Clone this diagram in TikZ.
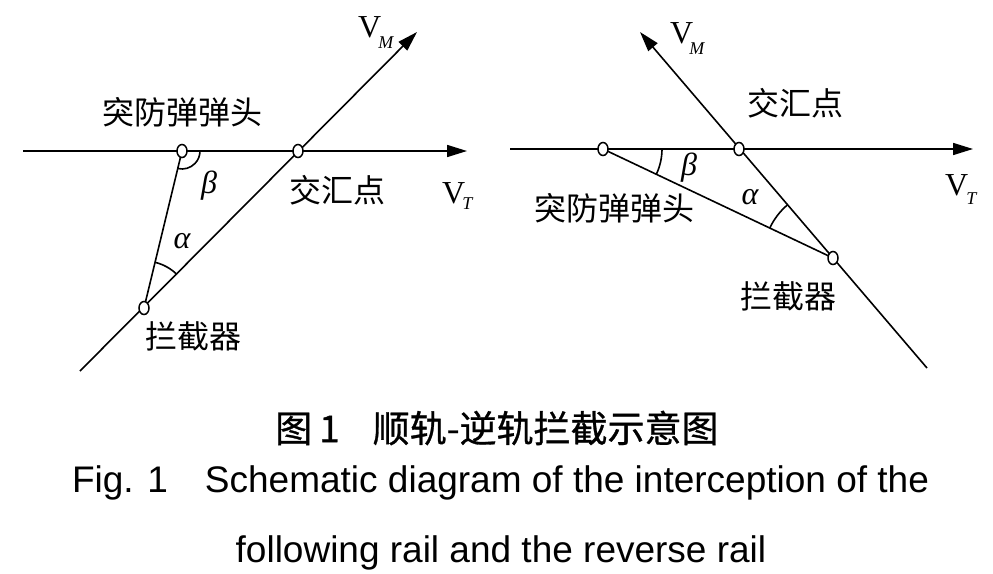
\documentclass[tikz,border=0pt]{standalone}
\usepackage{fontspec}
\setmainfont{Liberation Serif}
\newfontfamily\cjk{Noto Sans CJK SC}
\newfontfamily\cjkcap[FakeBold=0.8]{Noto Sans CJK SC}
\newfontfamily\capfont{Liberation Sans}
\usetikzlibrary{arrows.meta,angles,shapes.geometric}
\newcommand{\vsubs}[3]{V\kern#1pt\raisebox{-#2pt}{\fontsize{18}{18}\selectfont\itshape #3}}
\begin{document}
\begin{tikzpicture}[x=1pt,y=1pt,
  ln/.style={line width=1.6pt},
  arr/.style={ln,-{Triangle[length=20pt,width=12pt]}},
  pt/.style={ellipse,draw,fill=white,line width=1.5pt,minimum width=10pt,minimum height=13pt,inner sep=0pt},
  lab/.style={font=\cjk\fontsize{32}{32}\selectfont,inner sep=0pt},
  vv/.style={font=\fontsize{32}{32}\selectfont,inner sep=0pt,anchor=base west},
  gk/.style={font=\fontsize{32}{32}\selectfont\itshape,inner sep=0pt},
  ang/.style={draw,line width=1.6pt}
]
\useasboundingbox (0,0) rectangle (993,-573);
\fill[white] (0,0) rectangle (993,-573);
% ---------- left diagram ----------
\coordinate (lH0) at (23,-151);
\coordinate (lHT) at (467,-151);
\coordinate (lW) at (182,-151);
\coordinate (lM) at (298,-151);
\coordinate (lI) at (144,-308);
\coordinate (lV0) at (80,-371);
\coordinate (lVT) at (417,-32);
\draw[arr] (lH0) -- (lHT);
\draw[arr] (lV0) -- (lVT);
\draw[ln] (lW) -- (lI);
\pic[ang, angle radius=18pt] {angle = lI--lW--lM};
\pic[ang, angle radius=47pt] {angle = lM--lI--lW};
\node[pt] (plW) at (lW) {};
\node[pt] (plM) at (lM) {};
\node[pt] (plI) at (lI) {};
\node[lab] (tl1) at (182,-112) {突防弹弹头};
\node[lab] (tl2) at (337,-190) {交汇点};
\node[lab] (tl3) at (193,-336) {拦截器};
\node[gk] (gl1) at (209,-186) {β};
\node[gk] (gl2) at (182,-241) {α};
\node[vv] (vl1) at (358,-37) {\vsubs{-3}{11}{M}};
\node[vv] (vl2) at (442,-203) {\vsubs{-3}{6}{T}};
% ---------- right diagram ----------
\coordinate (rH0) at (510,-149);
\coordinate (rHT) at (973,-149);
\coordinate (rW) at (603,-149);
\coordinate (rM) at (739,-149);
\coordinate (rI) at (833,-258);
\coordinate (rV0) at (927,-368);
\coordinate (rVT) at (640,-32);
\draw[arr] (rH0) -- (rHT);
\draw[arr] (rV0) -- (rVT);
\draw[ln] (rW) -- (rI);
\pic[ang, angle radius=59pt] {angle = rI--rW--rM};
\pic[ang, angle radius=70pt] {angle = rM--rI--rW};
\node[pt] (prW) at (rW) {};
\node[pt] (prM) at (rM) {};
\node[pt] (prI) at (rI) {};
\node[lab] (tr1) at (614,-208) {突防弹弹头};
\node[lab] (tr2) at (795,-103) {交汇点};
\node[lab] (tr3) at (788,-296) {拦截器};
\node[gk] (gr1) at (689,-168) {β};
\node[gk] (gr2) at (750,-197) {α};
\node[vv] (vr1) at (670,-43) {\vsubs{-4}{11}{M}};
\node[vv] (vr2) at (945,-195) {\vsubs{-2}{9}{T}};
% ---------- caption ----------
\node[font=\cjkcap\fontsize{37}{37}\selectfont, anchor=west, inner sep=0pt] (c1) at (275,-428) {图\hspace{7pt}1\hspace{33pt}顺轨-逆轨拦截示意图};
\node[font=\capfont\fontsize{37}{37}\selectfont, anchor=base, inner sep=0pt] (c2) at (500.5,-492) {Fig. 1\hspace{1em}Schematic diagram of the interception of the};
\node[font=\capfont\fontsize{37}{37}\selectfont, anchor=base, inner sep=0pt] (c3) at (501,-562) {following rail and the reverse rail};
\end{tikzpicture}
\end{document}
